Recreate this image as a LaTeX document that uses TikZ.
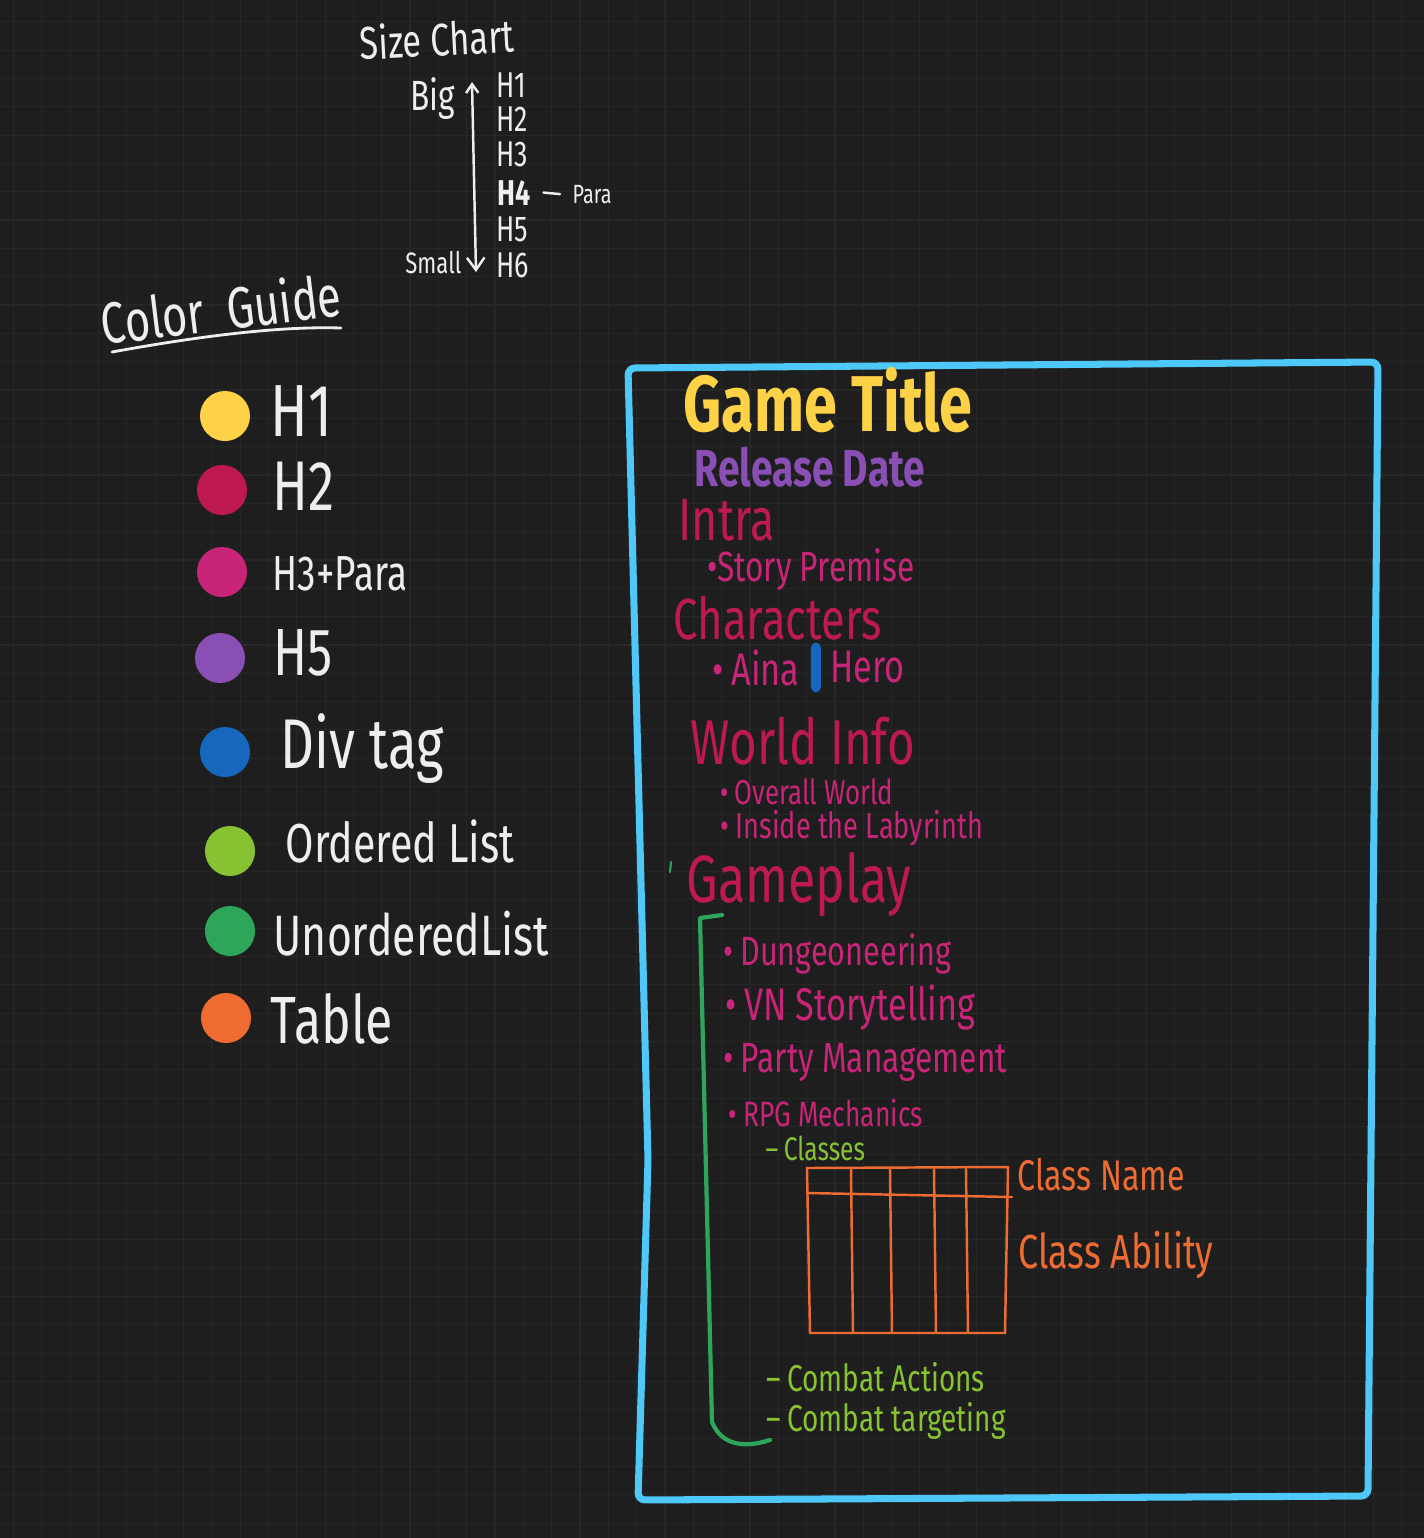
\documentclass[tikz,border=0pt]{standalone}
\usepackage{fontspec}
\newfontfamily\handfont{Fira Sans}[FakeStretch=0.75]
\usetikzlibrary{arrows.meta,positioning}
\definecolor{bgdark}{HTML}{1E1E1E}
\definecolor{gridgray}{HTML}{272727}
\definecolor{chalk}{HTML}{EEEEEE}
\definecolor{hyellow}{HTML}{FDD246}
\definecolor{hcrimson}{HTML}{BE1A50}
\definecolor{hmagenta}{HTML}{C92578}
\definecolor{hpurple}{HTML}{8A4FB5}
\definecolor{divblue}{HTML}{1668BF}
\definecolor{olime}{HTML}{87C233}
\definecolor{ugreen}{HTML}{2EA65A}
\definecolor{tblorange}{HTML}{EE6B32}
\definecolor{framecyan}{HTML}{4DC8F8}
\tikzset{
  hand/.style={font=\handfont\fontsize{#1}{#1}\selectfont, inner sep=0pt, anchor=base west},
  dot/.style={circle, fill=#1, minimum size=0.5cm, inner sep=0pt},
  divbar/.style={fill=divblue, rounded corners=1.5pt, minimum width=0.1cm, minimum height=0.5cm, inner sep=0pt},
  pen/.style={line width=0.7pt, line cap=round},
}

\begin{document}
\begin{tikzpicture}[x=0.01cm,y=-0.01cm,>=Latex]
% dark canvas with its faint grid
\fill[bgdark] (0,0) rectangle (1424,1538);
\useasboundingbox (0,0) rectangle (1424,1538);
\foreach \gx in {13.4,41.73,...,1424} \draw[gridgray,line width=0.3pt] (\gx,0) -- (\gx,1538);
\foreach \gy in {21.7,50.03,...,1538} \draw[gridgray,line width=0.3pt] (0,\gy) -- (1424,\gy);
% size chart (top)
\node[hand=13pt,text=chalk,rotate=3] (sizechart) at (360,60) {Size Chart};
\node[hand=12pt,text=chalk] (big) at (410,110) {Big};
\node[hand=8.4pt,text=chalk,anchor=base east] (small) at (462,273) {Small};
\foreach \i/\yy in {1/97,2/131,3/166,5/241,6/277}
  \node[hand=10.2pt,text=chalk] (h\i) at (496,\yy) {H\i};
\node[hand=10.2pt,text=chalk] (h4) at (497,205) {\bfseries H4};
\node[hand=7.5pt,text=chalk] (para) at (572,203) {Para};
\draw[chalk,pen] ([xshift=0.12cm]h4.east) -- ([xshift=-0.12cm]para.west);
\coordinate (bigend) at (472,82); \coordinate (smallend) at (476,272);
\draw[chalk,pen,{Straight Barb[length=2.5pt,width=3.5pt]}-{Straight Barb[length=3.5pt,width=5pt]}] (bigend) -- (smallend);
% colour guide (left)
\node[hand=16.5pt,text=chalk,rotate=7] (guide) at (103,345) {Color\ \ Guide};
\draw[chalk,line width=0.8pt,line cap=round] (112,352) .. controls (200,336) and (280,326) .. (341,328);
\node[dot=hyellow] (dH1) at (225,416) {};
\node[hand=21pt,text=chalk] (gH1) at (270,436) {H1};
\node[dot=hcrimson] (dH2) at (222,490) {};
\node[hand=20pt,text=chalk] (gH2) at (272,510) {H2};
\node[dot=hmagenta] (dH3) at (222,572) {};
\node[hand=14pt,text=chalk] (gH3) at (272,590) {H3+Para};
\node[dot=hpurple] (dH5) at (220,658) {};
\node[hand=19pt,text=chalk] (gH5) at (273,675) {H5};
\node[dot=divblue] (dDiv) at (225,752) {};
\node[hand=20pt,text=chalk] (gDiv) at (280,768) {Div tag};
\node[dot=olime] (dOL) at (230,851) {};
\node[hand=15.6pt,text=chalk] (gOL) at (285,862) {Ordered List};
\node[dot=ugreen] (dUL) at (230,931) {};
\node[hand=16.2pt,text=chalk] (gUL) at (273,955) {UnorderedList};
\node[dot=tblorange] (dTbl) at (226,1018) {};
\node[hand=19pt,text=chalk] (gTbl) at (270,1043) {Table};
% page frame
\draw[framecyan,line width=2pt,rounded corners=2pt,line cap=round] (628,368) -- (1378,362) -- (1368,1496) -- (638,1500) -- (648,1160) -- cycle;
% headings and paragraphs
\node[hand=22.5pt,text=hyellow] (title) at (683,431) {\bfseries Game Title};
\node[hand=14.8pt,text=hpurple] (reldate) at (694,486) {\bfseries Release Date};
\node[hand=17pt,text=hcrimson] (intra) at (678,540) {Intra};
\node[hand=12pt,text=hmagenta] (premise) at (707,581) {•Story Premise};
\node[hand=16.5pt,text=hcrimson] (chars) at (673,639) {Characters};
\node[hand=13pt,text=hmagenta] (aina) at (712,685) {•\,Aina};
\node[divbar,right=0.1cm of aina] (divtag) {};
\node[hand=13pt,text=hmagenta,right=0.08cm of divtag] (hero) {Hero};
\node[hand=18pt,text=hcrimson] (world) at (690,764) {World Info};
\node[hand=9.8pt,text=hmagenta] (overall) at (720,804) {•\,Overall World};
\node[hand=10.3pt,text=hmagenta] (inside) at (720,838) {•\,Inside the Labyrinth};
\node[hand=19pt,text=hcrimson] (gameplay) at (686,902) {Gameplay};
\draw[ugreen,line width=0.6pt,line cap=round] (671,862) -- (670,872);
% unordered list bracket
\draw[ugreen,line width=1.2pt,line cap=round,line join=round] (722,915) -- (700,918) -- (712,1422) .. controls (722,1446) and (745,1448) .. (770,1440);
\node[hand=11.6pt,text=hmagenta] (dungeon) at (723,965) {•\,Dungeoneering};
\node[hand=13pt,text=hmagenta] (vn) at (725,1020) {•\,VN Storytelling};
\node[hand=12pt,text=hmagenta] (party) at (723,1072) {•\,Party Management};
\node[hand=10pt,text=hmagenta] (rpg) at (728,1126) {•\,RPG Mechanics};
\node[hand=9.3pt,text=olime] (classes) at (765,1160) {–\,Classes};
% class table
\draw[tblorange,pen] (807,1168) -- (1008,1167) -- (1005,1333) -- (810,1333) -- cycle;
\draw[tblorange,pen] (807,1193) -- (1012,1197);
\foreach \cx in {851,890,934,966} \draw[tblorange,pen] (\cx,1169) -- (\cx+2,1333);
\node[hand=12.2pt,text=tblorange] (cname) at (1017,1190) {Class Name};
\node[hand=13.6pt,text=tblorange] (cability) at (1018,1268) {Class Ability};
\node[hand=10.6pt,text=olime] (actions) at (766,1391) {–\,Combat Actions};
\node[hand=10.6pt,text=olime] (targeting) at (766,1431) {–\,Combat targeting};
\end{tikzpicture}
\end{document}
